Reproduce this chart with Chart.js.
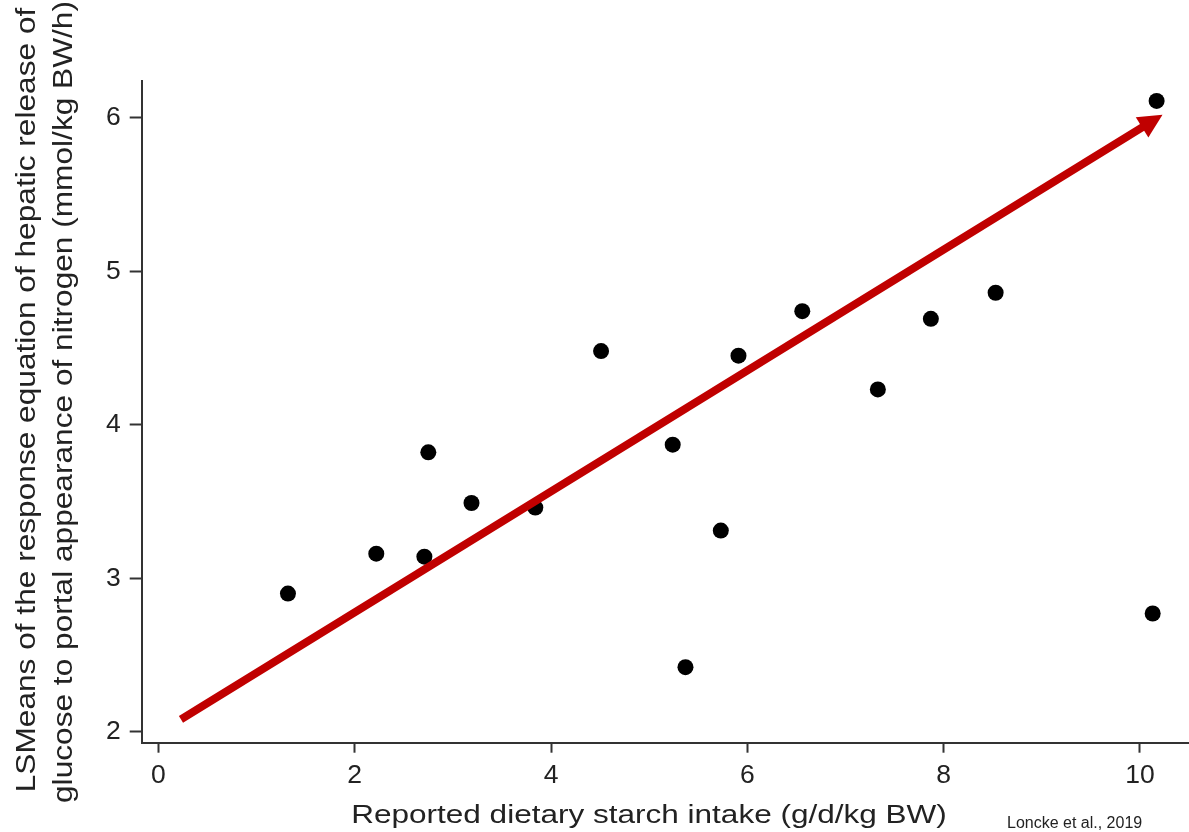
<!DOCTYPE html>
<html>
<head>
<meta charset="utf-8">
<script src="https://cdn.jsdelivr.net/npm/chart.js@4.4.1/dist/chart.umd.min.js"></script>
<style>
  body { margin: 0; background: #fff; }
  #wrap { position: relative; width: 1189px; height: 832px; }
  #source {
    position: absolute; left: 1007px; top: 814px;
    font: 16px "Liberation Sans", Arial, sans-serif; color: #222;
  }
</style>
</head>
<body>
<div id="wrap">
  <canvas id="chart" width="1189" height="832"></canvas>
  <div id="source">Loncke et al., 2019</div>
</div>
<script>
// starch intake (g/d/kg BW) vs LSMeans response
const starchIntake = [1.32, 2.22, 2.71, 2.75, 3.19, 3.84, 4.51, 5.24, 5.37, 5.73, 5.91, 6.56, 7.33, 7.87, 8.53, 10.13, 10.17];
const lsMeans = [2.90, 3.16, 3.14, 3.82, 3.49, 3.46, 4.48, 3.87, 2.42, 3.31, 4.45, 4.74, 4.23, 4.69, 4.86, 2.77, 6.11];

// red trend arrow, start and tip
const arrowX = [0.23, 10.23];
const arrowY = [2.08, 6.02];

const xTicks = [0, 2, 4, 6, 8, 10];
const yTicks = [2, 3, 4, 5, 6];

const xTitle = 'Reported dietary starch intake (g/d/kg BW)';
const yTitle = ['LSMeans of the response equation of hepatic release of',
                'glucose to portal appearance of nitrogen (mmol/kg BW/h)'];

const axisColor = '#333';
const textColor = '#222';
const font = 'Liberation Sans';

const arrowPlugin = {
  id: 'arrow',
  afterDatasetsDraw(chart) {
    const { ctx, scales: { x, y } } = chart;
    const x0 = x.getPixelForValue(arrowX[0]), y0 = y.getPixelForValue(arrowY[0]);
    const x1 = x.getPixelForValue(arrowX[1]), y1 = y.getPixelForValue(arrowY[1]);
    const len = Math.hypot(x1 - x0, y1 - y0);
    const ux = (x1 - x0) / len, uy = (y1 - y0) / len;
    const headLen = 24, halfW = 12;
    const bx = x1 - ux * headLen, by = y1 - uy * headLen;

    ctx.save();
    ctx.strokeStyle = '#c00000';
    ctx.fillStyle = '#c00000';
    ctx.lineWidth = 8;
    ctx.lineCap = 'butt';
    ctx.beginPath();
    ctx.moveTo(x0, y0);
    ctx.lineTo(bx + ux * 2, by + uy * 2);
    ctx.stroke();
    ctx.beginPath();
    ctx.moveTo(x1, y1);
    ctx.lineTo(bx - uy * halfW, by + ux * halfW);
    ctx.lineTo(bx + uy * halfW, by - ux * halfW);
    ctx.closePath();
    ctx.fill();
    ctx.restore();
  }
};

// the original axis titles are drawn wider than the font, so stretch them a bit
function stretchedText(ctx, text, x, y, rot, sx, sy, size) {
  ctx.save();
  ctx.translate(x, y);
  ctx.rotate(rot);
  ctx.scale(sx, sy);
  ctx.font = size + 'px "' + font + '"';
  ctx.fillStyle = textColor;
  ctx.textAlign = 'center';
  ctx.textBaseline = 'alphabetic';
  ctx.fillText(text, 0, 0);
  ctx.restore();
}

const titlesPlugin = {
  id: 'titles',
  afterDraw(chart) {
    const { ctx } = chart;
    stretchedText(ctx, xTitle, 649, 823, 0, 1.236, 1, 25.5);
    stretchedText(ctx, yTitle[0], 35, 400, -Math.PI / 2, 1.217, 1.075, 26);
    stretchedText(ctx, yTitle[1], 71.5, 402, -Math.PI / 2, 1.217, 1.075, 26);
  }
};

new Chart(document.getElementById('chart'), {
  type: 'scatter',
  data: {
    datasets: [{
      data: starchIntake.map((v, i) => ({ x: v, y: lsMeans[i] })),
      backgroundColor: '#000',
      borderWidth: 0,
      pointRadius: 8,
    }],
  },
  options: {
    responsive: false,
    animation: false,
    layout: { autoPadding: false, padding: { top: 81, right: 0, bottom: 0, left: 0 } },
    plugins: { legend: { display: false }, tooltip: { enabled: false } },
    scales: {
      x: {
        type: 'linear',
        min: -0.17,
        max: 10.5,
        afterBuildTicks: (axis) => { axis.ticks = xTicks.map(v => ({ value: v })); },
        afterFit: (axis) => { axis.height = 89.3; },
        border: { color: axisColor, width: 2 },
        grid: { drawOnChartArea: false, drawTicks: true, tickLength: 10, tickColor: axisColor, tickWidth: 2 },
        ticks: { color: textColor, padding: 7, font: { family: font, size: 26.5 } },
        title: { display: false, text: xTitle },
      },
      y: {
        min: 1.928,
        max: 6.24,
        afterBuildTicks: (axis) => { axis.ticks = yTicks.map(v => ({ value: v })); },
        afterFit: (axis) => { axis.width = 141.7; },
        border: { color: axisColor, width: 2 },
        grid: { drawOnChartArea: false, drawTicks: true, tickLength: 12, tickColor: axisColor, tickWidth: 2 },
        ticks: { color: textColor, padding: 9, font: { family: font, size: 26.5 } },
        title: { display: false, text: yTitle },
      },
    },
  },
  plugins: [arrowPlugin, titlesPlugin],
});
</script>
</body>
</html>
